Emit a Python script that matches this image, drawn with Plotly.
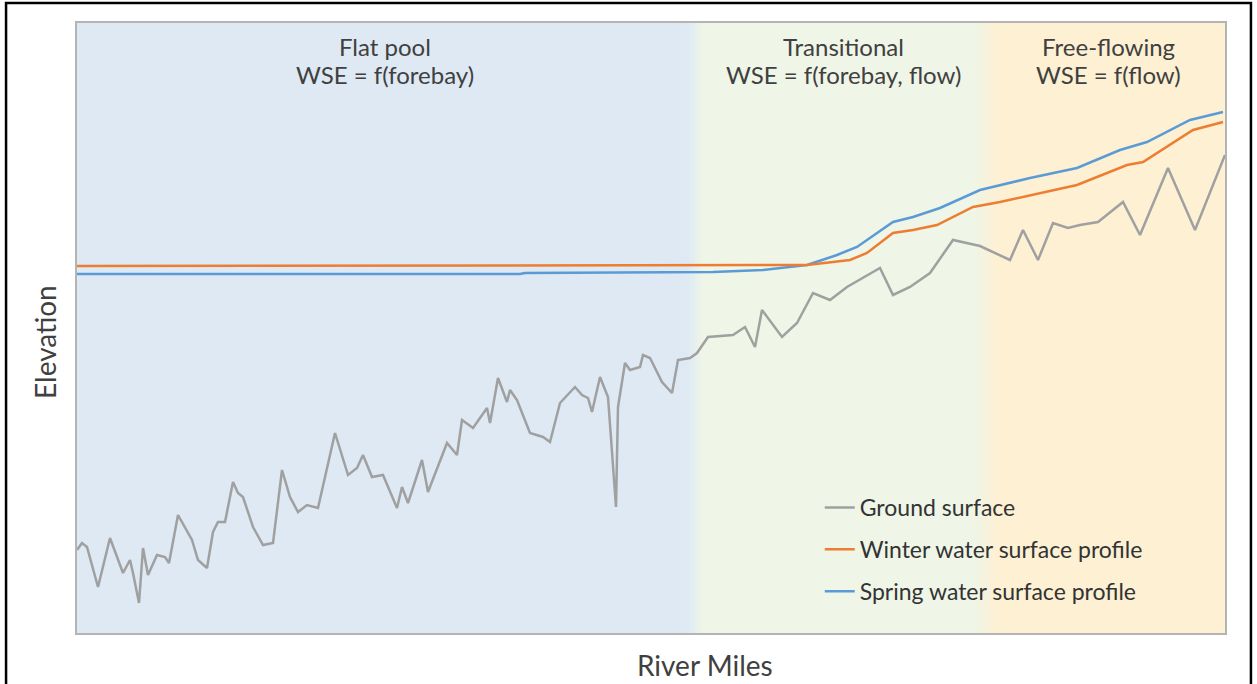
import plotly.graph_objects as go

# ---- data (arbitrary river-mile / elevation units) ----
ground_x = [0, 5, 10, 21, 33, 46, 53, 56, 62, 66, 71, 80, 88, 92, 101, 115, 121, 130, 136, 141,
            148, 156, 161, 166, 176, 186, 196, 205, 213, 221, 230, 241, 258, 271, 280, 286, 295, 306,
            320, 325, 331, 345, 351, 370, 380, 385, 396, 410, 413, 421, 430, 433, 440, 453, 466, 473,
            483, 498, 505, 511, 515, 523, 531, 539, 541, 548, 553, 563, 566, 573, 585, 595, 601, 613,
            620, 631, 656, 668, 678, 685, 705, 720, 736, 753, 770, 803, 816, 833, 853, 876, 903, 933,
            946, 961, 976, 991, 1003, 1021, 1046, 1063, 1091, 1118, 1148]
ground_y = [83, 90, 86, 46, 95, 60, 73, 60, 30, 85, 58, 78, 76, 70, 118, 93, 73, 65, 101, 111,
            111, 151, 140, 136, 106, 88, 90, 163, 136, 121, 128, 125, 200, 158, 165, 178, 156, 158,
            125, 146, 130, 173, 141, 190, 178, 213, 205, 225, 210, 255, 231, 243, 233, 200, 196, 191,
            230, 246, 238, 235, 221, 256, 236, 126, 226, 270, 263, 266, 278, 275, 251, 240, 273, 275,
            280, 296, 298, 306, 286, 323, 296, 310, 340, 333, 346, 365, 338, 346, 360, 393, 387, 373,
            403, 373, 410, 405, 408, 411, 431, 398, 465, 403, 478]

winter_x = [0, 693, 730, 773, 790, 816, 836, 860, 896, 923, 970, 1000, 1050, 1066, 1116, 1146]
winter_y = [367, 368, 368, 373, 380, 400, 403, 408, 426, 431, 441, 448, 468, 471, 503, 511]

spring_x = [0, 443, 448, 636, 686, 730, 760, 780, 816, 836, 863, 880, 903, 953, 1000, 1043, 1070, 1113, 1146]
spring_y = [359, 359, 360, 361, 363, 368, 378, 386, 411, 416, 425, 433, 443, 455, 465, 483, 491, 513, 521]

series_names = ["Ground surface", "Winter water surface profile", "Spring water surface profile"]

zone_edges = [0, 618, 908, 1148]
zone_titles = ["Flat pool", "Transitional", "Free-flowing"]
zone_formulas = ["WSE = f(forebay)", "WSE = f(forebay, flow)", "WSE = f(flow)"]
zone_centers = [308, 766, 1031]

x_title = "River Miles"
y_title = "Elevation"

# ---- styles ----
FONT = "Lato, 'Open Sans', sans-serif"
TXT = "#404040"
zone_colors = ["#dee9f4", "#eff5e7", "#fdf0d3"]

fig = go.Figure()
fig.add_trace(go.Scatter(x=ground_x, y=ground_y, mode="lines", name=series_names[0],
                         line=dict(color="#a0a0a0", width=2.5), legendgroup="g", legendrank=1))
fig.add_trace(go.Scatter(x=spring_x, y=spring_y, mode="lines", name=series_names[2],
                         line=dict(color="#5b9bd5", width=2.5), legendgroup="s", legendrank=3))
fig.add_trace(go.Scatter(x=winter_x, y=winter_y, mode="lines", name=series_names[1],
                         line=dict(color="#ed7d31", width=2.5), legendgroup="w", legendrank=2))

shapes = []
for i in range(3):
    shapes.append(dict(type="rect", xref="x", yref="paper", x0=zone_edges[i], x1=zone_edges[i + 1],
                       y0=0, y1=1, fillcolor=zone_colors[i], line=dict(width=0), layer="below"))


def blend(c1, c2, t):
    a = [int(c1[k:k + 2], 16) for k in (1, 3, 5)]
    b = [int(c2[k:k + 2], 16) for k in (1, 3, 5)]
    return "#%02x%02x%02x" % tuple(round(a[j] + (b[j] - a[j]) * t) for j in range(3))


for edge, (ca, cb), half in [(618, (zone_colors[0], zone_colors[1]), 8),
                             (908, (zone_colors[1], zone_colors[2]), 12)]:
    n = 6
    w = 2 * half / n
    for k in range(n):
        shapes.append(dict(type="rect", xref="x", yref="paper", x0=edge - half + k * w,
                           x1=edge - half + (k + 1) * w, y0=0, y1=1,
                           fillcolor=blend(ca, cb, (k + 0.5) / n), line=dict(width=0), layer="below"))
# outer black frame
shapes.append(dict(type="rect", xref="paper", yref="paper", x0=-0.0618, x1=1.0226, y0=-0.12, y1=1.0328,
                   line=dict(color="black", width=2.5), fillcolor="rgba(0,0,0,0)"))

annotations = []
for i in range(3):
    annotations.append(dict(x=zone_centers[i], y=0.961, xref="x", yref="paper", text=zone_titles[i],
                            showarrow=False, font=dict(family=FONT, size=24, color=TXT),
                            xanchor="center", yanchor="middle"))
    annotations.append(dict(x=zone_centers[i], y=0.915, xref="x", yref="paper", text=zone_formulas[i],
                            showarrow=False, font=dict(family=FONT, size=24, color=TXT),
                            xanchor="center", yanchor="middle"))
# axis titles
annotations.append(dict(x=0.547, y=-0.0525, xref="paper", yref="paper", text=x_title, showarrow=False,
                        font=dict(family=FONT, size=28, color=TXT), xanchor="center", yanchor="middle"))
annotations.append(dict(x=-0.0279, y=0.477, xref="paper", yref="paper", text=y_title, showarrow=False,
                        textangle=-90, font=dict(family=FONT, size=28, color=TXT),
                        xanchor="center", yanchor="middle"))

fig.update_layout(
    width=1257, height=684,
    margin=dict(l=77, r=32, t=23, b=51),
    paper_bgcolor="white", plot_bgcolor="white",
    font=dict(family=FONT, size=24, color=TXT),
    shapes=shapes, annotations=annotations,
    showlegend=True,
    legend=dict(x=0.647, y=0.241, xanchor="left", yanchor="top", bgcolor="rgba(0,0,0,0)",
                font=dict(family=FONT, size=23, color="#333333"), tracegroupgap=9,
                traceorder="grouped"),
    xaxis=dict(range=[0, 1148], showgrid=False, zeroline=False, showticklabels=False, ticks="",
               showline=True, mirror=True, linecolor="#b4b4b4", linewidth=1.5),
    yaxis=dict(range=[0, 610], showgrid=False, zeroline=False, showticklabels=False, ticks="",
               showline=True, mirror=True, linecolor="#b4b4b4", linewidth=1.5),
)

fig.write_html("out.html", config={"displayModeBar": False},
               post_script="document.body.style.margin='0';")
